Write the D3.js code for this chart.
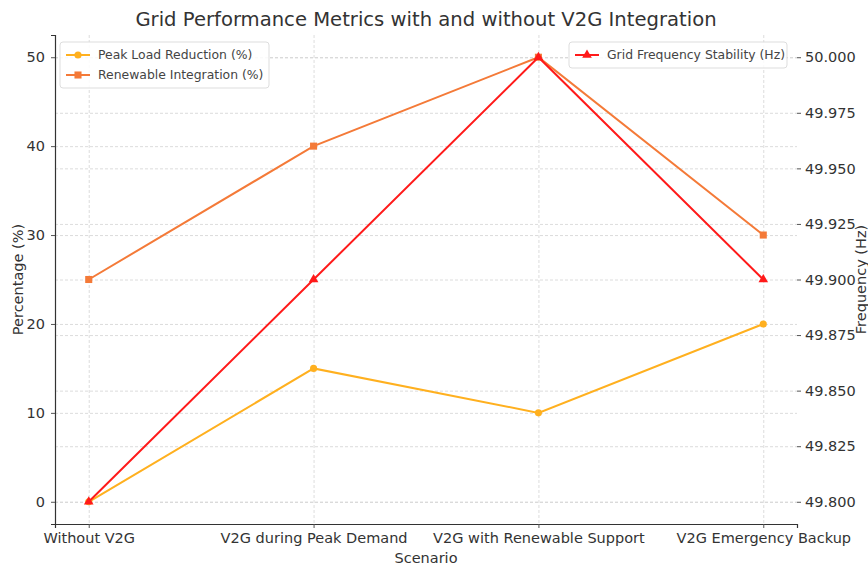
<!DOCTYPE html>
<html>
<head>
<meta charset="utf-8">
<script src="https://cdn.jsdelivr.net/npm/d3@7"></script>
<style>
  body { margin: 0; background: white; }
  text { font-family: "DejaVu Sans", sans-serif; }
</style>
</head>
<body>
<div id="chart"></div>
<script>
// data
var scenarios = ["Without V2G", "V2G during Peak Demand", "V2G with Renewable Support", "V2G Emergency Backup"];
var peakLoad = [0, 15, 10, 20];
var renewable = [25, 40, 50, 30];
var frequency = [49.80, 49.90, 50.00, 49.90];
var leftTicks = [0, 10, 20, 30, 40, 50];
var rightTicks = [49.800, 49.825, 49.850, 49.875, 49.900, 49.925, 49.950, 49.975, 50.000];

var width = 868, height = 568;
var m = {left: 55, right: 71, top: 35, bottom: 44};
var w = width - m.left - m.right, h = height - m.top - m.bottom;

var svg = d3.select("#chart").append("svg")
	.attr("width", width)
	.attr("height", height)
	.style("background-color", "white");

var g = svg.append("g").attr("transform", "translate(" + m.left + "," + m.top + ")");

var x = d3.scaleLinear().domain([-0.15, 3.15]).range([0, w]);
var yL = d3.scaleLinear().domain([-2.5, 52.5]).range([h, 0]);
var yR = d3.scaleLinear().domain([49.79, 50.01]).range([h, 0]);

var gridStyle = function(sel) {
	sel.selectAll("line").style("stroke", "#d3d3d3").style("stroke-dasharray", "3,2").style("stroke-width", 0.8);
	sel.select(".domain").remove();
};

// grids
g.append("g").call(d3.axisBottom(x).tickValues([0, 1, 2, 3]).tickSize(h).tickFormat(""))
	.call(gridStyle);
g.append("g").call(d3.axisLeft(yL).tickValues(leftTicks).tickSize(-w).tickFormat(""))
	.call(gridStyle);
g.append("g").call(d3.axisLeft(yR).tickValues(rightTicks).tickSize(-w).tickFormat(""))
	.call(gridStyle);

// axes
var xAxis = g.append("g").attr("transform", "translate(0," + h + ")")
	.call(d3.axisBottom(x).tickValues([0, 1, 2, 3]).tickSize(4).tickPadding(5).tickFormat(function(d) { return scenarios[d]; }));
var lAxis = g.append("g").call(d3.axisLeft(yL).tickValues(leftTicks).tickSize(4).tickPadding(6));
var rAxis = g.append("g").attr("transform", "translate(" + w + ",0)")
	.call(d3.axisRight(yR).tickValues(rightTicks).tickSize(4).tickPadding(4).tickFormat(d3.format(".3f")));
rAxis.select(".domain").remove();

[xAxis, lAxis, rAxis].forEach(function(a) {
	a.selectAll("text").style("font-size", "14.5px").style("fill", "#333").style("font-family", "DejaVu Sans");
	a.selectAll("line").style("stroke", "#555");
	a.select(".domain").style("stroke", "#333").style("stroke-width", 1.2);
});

// series
var series = [
	{name: "Peak Load Reduction (%)", values: peakLoad, y: yL, color: "#ffb01f", marker: "circle"},
	{name: "Renewable Integration (%)", values: renewable, y: yL, color: "#f47a38", marker: "square"},
	{name: "Grid Frequency Stability (Hz)", values: frequency, y: yR, color: "#ff1a1a", marker: "triangle"}
];

var symbols = {circle: d3.symbolCircle, square: d3.symbolSquare, triangle: d3.symbolTriangle};
var symSize = {circle: 40, square: 50, triangle: 40};

series.forEach(function(s) {
	var line = d3.line()
		.x(function(d, i) { return x(i); })
		.y(function(d) { return s.y(d); });
	g.append("path")
		.datum(s.values)
		.style("fill", "none")
		.style("stroke", s.color)
		.style("stroke-width", 2)
		.attr("d", line);
	g.selectAll(".pt-" + s.marker)
		.data(s.values)
		.enter().append("path")
		.attr("class", "pt-" + s.marker)
		.attr("transform", function(d, i) { return "translate(" + x(i) + "," + s.y(d) + ")"; })
		.attr("d", d3.symbol().type(symbols[s.marker]).size(symSize[s.marker]))
		.style("fill", s.color);
});

// legends
function legend(items, lx, ly, bw) {
	var lg = g.append("g").attr("transform", "translate(" + lx + "," + ly + ")");
	lg.append("rect")
		.attr("width", bw).attr("height", items.length * 20 + 6)
		.attr("rx", 3)
		.style("fill", "white").style("fill-opacity", 0.85)
		.style("stroke", "#ddd");
	items.forEach(function(s, i) {
		var yy = 13 + i * 20;
		lg.append("line").attr("x1", 6).attr("x2", 30).attr("y1", yy).attr("y2", yy)
			.style("stroke", s.color).style("stroke-width", 2);
		lg.append("path")
			.attr("transform", "translate(18," + yy + ")")
			.attr("d", d3.symbol().type(symbols[s.marker]).size(symSize[s.marker]))
			.style("fill", s.color);
		lg.append("text").attr("x", 38).attr("y", yy + 4)
			.style("font-size", "12.4px").style("fill", "#444")
			.text(s.name);
	});
}
legend(series.slice(0, 2), 5, 7, 209);
legend(series.slice(2), 514, 7, 218);

// titles
svg.append("text")
	.attr("x", m.left + w / 2).attr("y", 26)
	.attr("text-anchor", "middle")
	.style("font-size", "19.6px").style("fill", "#333")
	.text("Grid Performance Metrics with and without V2G Integration");

svg.append("text")
	.attr("x", m.left + w / 2).attr("y", 563)
	.attr("text-anchor", "middle")
	.style("font-size", "14.5px").style("fill", "#333")
	.text("Scenario");

svg.append("text")
	.attr("transform", "translate(23," + (m.top + h / 2) + ") rotate(-90)")
	.attr("text-anchor", "middle")
	.style("font-size", "14.5px").style("fill", "#333")
	.text("Percentage (%)");

svg.append("text")
	.attr("transform", "translate(866," + (m.top + h / 2) + ") rotate(-90)")
	.attr("text-anchor", "middle")
	.style("font-size", "14.5px").style("fill", "#333")
	.text("Frequency (Hz)");
</script>
</body>
</html>
